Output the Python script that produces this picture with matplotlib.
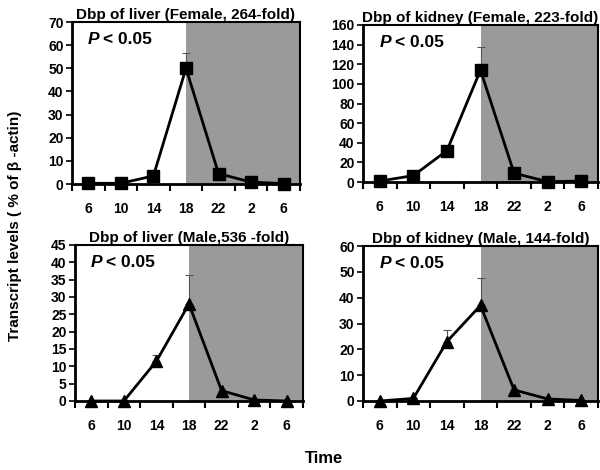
import matplotlib.pyplot as plt
import numpy as np

plt.rcParams['font.family'] = ['Liberation Sans', 'DejaVu Sans']
plt.rcParams['font.weight'] = 'bold'

times = ['6', '10', '14', '18', '22', '2', '6']

liver_f = [0.3, 0.3, 3.5, 50, 4.5, 0.8, 0.2]
liver_f_err = [0, 0, 0, 6.5, 0, 0, 0]
kidney_f = [1, 6.5, 32, 114, 9, 0.3, 1]
kidney_f_err = [0, 0, 0, 23.5, 0, 0, 0]
liver_m = [0, 0, 11.5, 28, 3, 0.3, 0]
liver_m_err = [0, 0, 1.7, 8.3, 0, 0, 0]
kidney_m = [0, 1, 23, 37, 4.3, 0.8, 0.2]
kidney_m_err = [0, 0, 4.5, 10.5, 0, 0, 0]

panels = [
    # title, values, errors, marker, ylim, ystep, axes rect (pixels: left, top, right, bottom)
    ('Dbp of liver (Female, 264-fold)', liver_f, liver_f_err, 's', 70, 10, (72, 22, 300, 184)),
    ('Dbp of kidney (Female, 223-fold)', kidney_f, kidney_f_err, 's', 160, 20, (363, 25, 598, 182)),
    ('Dbp of liver (Male,536 -fold)', liver_m, liver_m_err, '^', 45, 5, (75, 245, 303, 401)),
    ('Dbp of kidney (Male, 144-fold)', kidney_m, kidney_m_err, '^', 60, 10, (363, 246, 598, 401)),
]

W, H = 600, 470
fig = plt.figure(figsize=(6, 4.7), dpi=100)

for title, vals, errs, mk, ymax, ystep, (l, t, r, b) in panels:
    ax = fig.add_axes([l / W, 1 - b / H, (r - l) / W, (b - t) / H])
    x = np.arange(len(times))
    # dark phase
    ax.axvspan(3, 6.5, color='#9a9a9a', lw=0, zorder=0)
    ax.errorbar(x, vals, yerr=[np.zeros(len(errs)), errs], fmt='none',
                ecolor='#555555', elinewidth=0.8, capsize=3, capthick=0.8, zorder=2)
    ax.plot(x, vals, color='black', lw=2, marker=mk, ms=8, zorder=3, clip_on=False)
    ax.set_xlim(-0.5, 6.5)
    ax.set_ylim(0, ymax)
    ax.set_yticks(np.arange(0, ymax + 1, ystep))
    ax.set_xticks(x)
    ax.set_xticklabels(times)
    ax.set_xticks(np.arange(-0.5, 7, 1), minor=True)
    ax.tick_params(axis='x', which='major', length=0, pad=13, labelsize=10)
    ax.tick_params(axis='x', which='minor', length=5, width=1.5, direction='out')
    ax.tick_params(axis='y', length=4, width=1.2, labelsize=10, pad=2)
    for lab in ax.get_xticklabels() + ax.get_yticklabels():
        lab.set_fontweight('bold')
    for side in ['left', 'bottom']:
        ax.spines[side].set_linewidth(2)
    for side in ['top', 'right']:
        ax.spines[side].set_linewidth(1.5)
    ax.set_title(title, fontsize=11, fontweight='bold', pad=0.5)
    ax.text(0.07, 0.89, 'P', transform=ax.transAxes, fontsize=12.5,
            fontweight='bold', style='italic', va='center')
    ax.annotate('< 0.05', xy=(0.07, 0.89), xycoords='axes fraction',
                xytext=(11, 0), textcoords='offset points', fontsize=12.5,
                fontweight='bold', va='center')

fig.text(0.025, 0.52, 'Transcript levels ( % of β -actin)', rotation=90,
         ha='center', va='center', fontsize=11, fontweight='bold')
fig.text(0.54, 0.024, 'Time', ha='center', va='center', fontsize=12, fontweight='bold')

fig.savefig('out.png', dpi=100)
